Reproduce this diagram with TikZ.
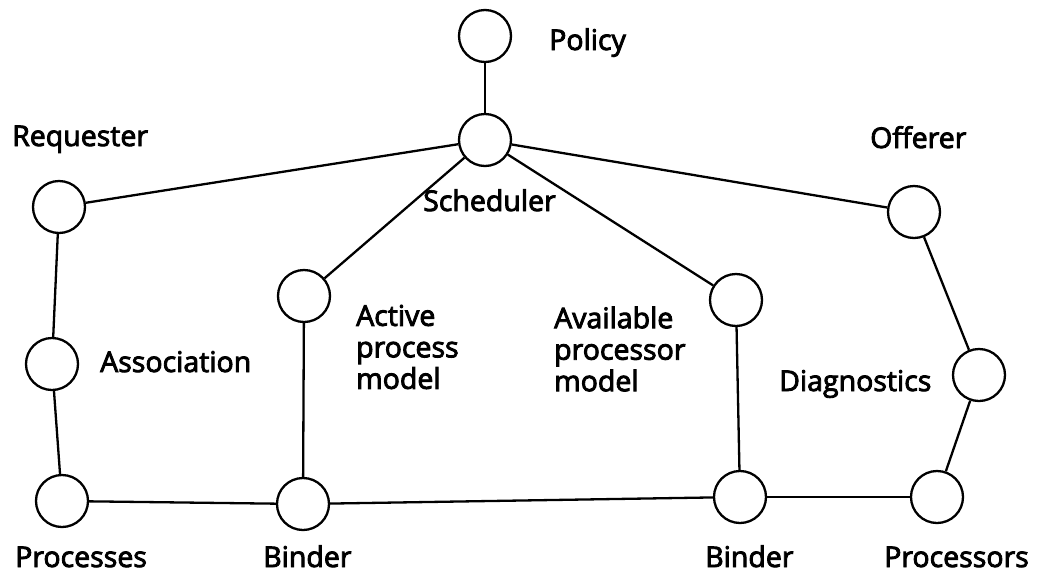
\documentclass[tikz,border=0pt]{standalone}
\usepackage{fontspec}
\setmainfont{Open Sans}[BoldFont={Open Sans},BoldFeatures={FakeBold=3}]
\begin{document}
\begin{tikzpicture}[x=1pt,y=-1pt,
  port/.style={circle,draw,line width=2.3pt,minimum size=52pt,inner sep=0pt,fill=white},
  link/.style={line width=2.3pt},
  lbl/.style={font=\fontsize{28.5}{31.5}\selectfont\bfseries,inner sep=0pt,anchor=base west,align=left}]
\fill[white] (0,0) rectangle (1037,574);
\useasboundingbox (0,0) rectangle (1037,574);

% circles
\node[port] (policy) at (485,36) {};
\node[port] (sched) at (485,140) {};
\node[port] (req) at (59,207) {};
\node[port] (off) at (914,212) {};
\node[port] (active) at (304,296) {};
\node[port] (avail) at (736,300) {};
\node[port] (assoc) at (52,364) {};
\node[port] (diag) at (979,375) {};
\node[port] (procs) at (62,501) {};
\node[port] (bindl) at (303,504) {};
\node[port] (bindr) at (740,497) {};
\node[port] (cpus) at (937,497) {};

% connectors
\draw[link] (policy) -- (sched);
\draw[link] (sched) -- (req);
\draw[link] (sched) -- (off);
\draw[link] (sched) -- (active);
\draw[link] (sched) -- (avail);
\draw[link] (req) -- (assoc);
\draw[link] (assoc) -- (procs);
\draw[link] (procs) -- (bindl);
\draw[link] (bindl) -- (bindr);
\draw[link] (bindr) -- (cpus);
\draw[link] (active) -- (bindl);
\draw[link] (avail) -- (bindr);
\draw[link] (off) -- (diag);
\draw[link] (diag) -- (cpus);

% labels (positions are baselines)
\node[lbl] (tpolicy) at (549,50) {Policy};
\node[lbl] (treq) at (12,146) {Requester};
\node[lbl] (toff) at (870,148) {Offerer};
\node[lbl] (tsched) at (423,211) {Scheduler};
\node[lbl,anchor=west] (tactive) at (356,347) {Active\\process\\model};
\node[lbl] (tassoc) at (100,372) {Association};
\node[lbl,anchor=west] (tavail) at (554,349) {Available\\processor\\model};
\node[lbl] (tdiag) at (779,391) {Diagnostics};
\node[lbl] (tprocs) at (15,567) {Processes};
\node[lbl] (tbindl) at (263,567) {Binder};
\node[lbl] (tbindr) at (705,567) {Binder};
\node[lbl] (tcpus) at (884,567) {Processors};
\end{tikzpicture}
\end{document}
